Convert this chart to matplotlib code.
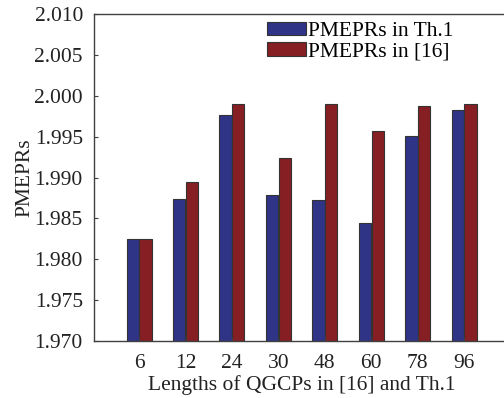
import matplotlib
matplotlib.use("Agg")
import matplotlib.pyplot as plt
import numpy as np

plt.rcParams['font.family'] = ['Liberation Serif', 'DejaVu Serif']

lengths = ['6', '12', '24', '30', '48', '60', '78', '96']
pmepr_th1 = [1.9825, 1.9874, 1.9976, 1.9878, 1.9873, 1.9844, 1.9951, 1.9982]
pmepr_ref16 = [1.9825, 1.9894, 1.9990, 1.9924, 1.9990, 1.9957, 1.9988, 1.9990]

blue = '#2f3487'
red = '#861f23'
fs = 15.5

fig = plt.figure(figsize=(5.04, 3.98), dpi=100)
ax = fig.add_axes([0.1865, 0.1432, 0.824, 0.8216])

x = np.arange(len(lengths))
w = 0.265
off = 0.137
ax.bar(x - off, pmepr_th1, w, color=blue, edgecolor='#333333', linewidth=0.8,
       label='PMEPRs in Th.1')
ax.bar(x + off, pmepr_ref16, w, color=red, edgecolor='#333333', linewidth=0.8,
       label='PMEPRs in [16]')

yt = np.arange(1.970, 2.0101, 0.005)
ax.set_ylim(1.970, 2.010)
ax.set_yticks(yt)
ax.set_yticklabels(['%.3f' % v for v in yt])
ax.set_xlim(-0.97, 7.97)
ax.set_xticks(x)
ax.set_xticklabels(lengths)

for s in ax.spines.values():
    s.set_color('#404040')
    s.set_linewidth(1.0)
ax.tick_params(direction='in', length=3, width=0.8, color='#404040',
               labelsize=fs, labelcolor='#222222')
ax.tick_params(axis='x', pad=9)
ax.tick_params(axis='y', pad=8)

ax.set_xlabel('Lengths of QGCPs in [16] and Th.1', fontsize=fs, color='#222222', labelpad=2)
ax.set_ylabel('PMEPRs', fontsize=fs, color='#222222', labelpad=0)

ax.legend(loc='upper left', bbox_to_anchor=(0.417, 0.977), frameon=False,
          fontsize=fs, handlelength=1.8, handleheight=0.6,
          handletextpad=0.08, labelspacing=0.05, borderpad=0, borderaxespad=0)

fig.savefig('out.png', dpi=100)
